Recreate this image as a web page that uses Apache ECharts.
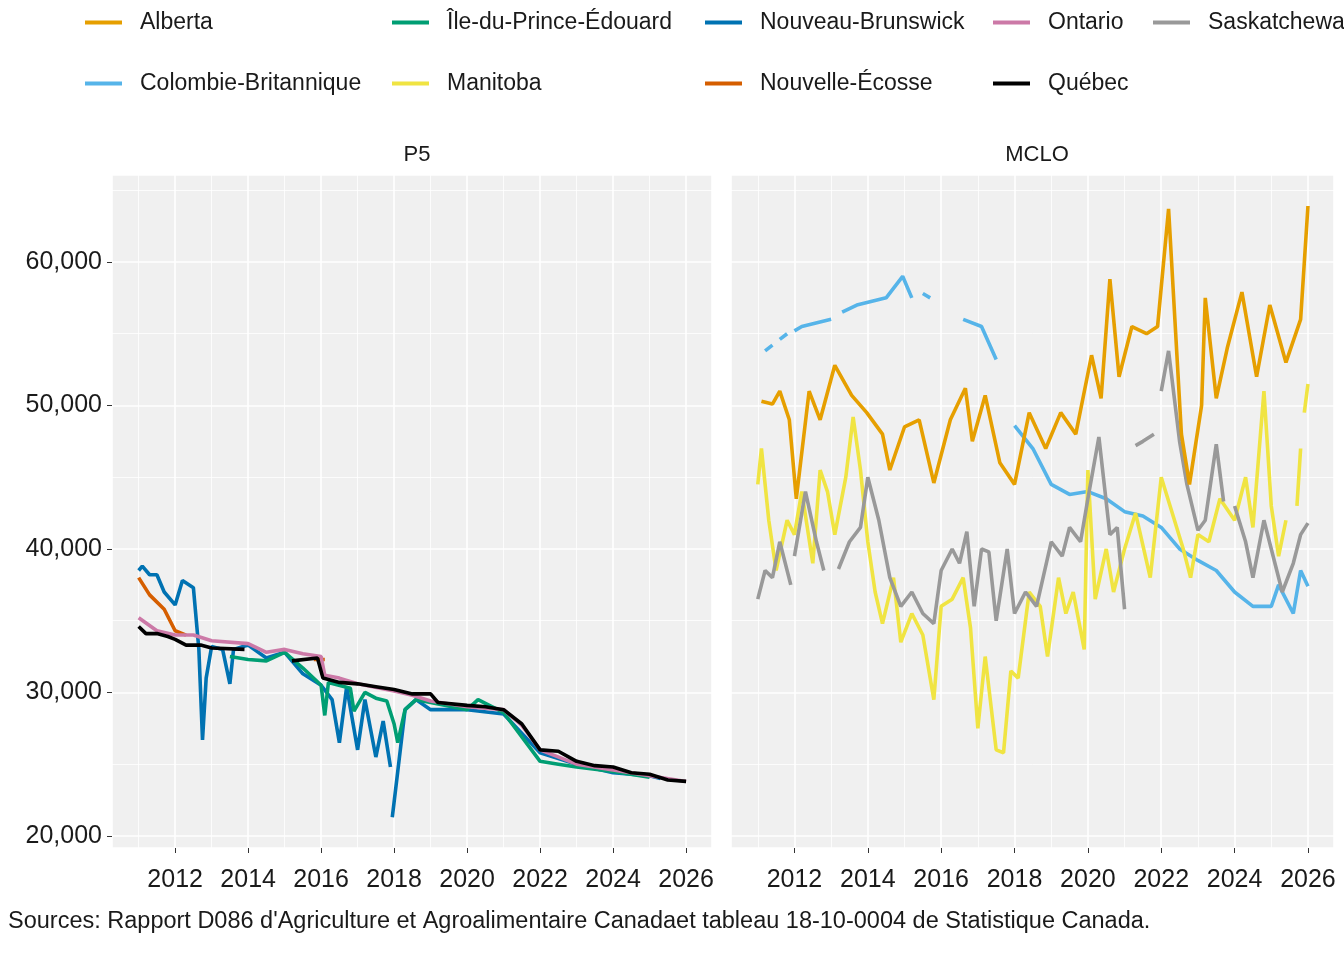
<!DOCTYPE html>
<html>
<head>
<meta charset="utf-8">
<script src="https://cdn.jsdelivr.net/npm/echarts@6/dist/echarts.min.js"></script>
<style>
  html, body { margin: 0; padding: 0; background: #fff; }
  #chart { width: 1344px; height: 960px; }
</style>
</head>
<body>
<div id="chart"></div>
<script>
// provinces and their colours
const provinces = ['Alberta', 'Colombie-Britannique', 'Île-du-Prince-Édouard', 'Manitoba', 'Nouveau-Brunswick',
    'Nouvelle-Écosse', 'Ontario', 'Québec', 'Saskatchewan'];
const colors = ['#E69F00', '#56B4E9', '#009E73', '#F0E442', '#0072B2', '#D55E00', '#CC79A7', '#000000', '#999999'];

// P5 panel: [year, price], null = gap
const p5Quebec = [[2011.0,34600],[2011.2,34100],[2011.5,34100],[2011.8,33900],[2012.0,33700],[2012.3,33300],[2012.7,33300],
    [2013.0,33100],[2013.9,33000],[2014.0,null],[2015.2,32200],[2015.9,32400],[2016.05,31000],[2016.5,30700],[2017.0,30600],
    [2017.5,30400],[2018.0,30200],[2018.5,29900],[2019.0,29900],[2019.2,29300],[2020.0,29100],[2020.5,29000],[2021.0,28800],
    [2021.5,27800],[2022.0,26000],[2022.5,25900],[2023.0,25200],[2023.5,24900],[2024.0,24800],[2024.5,24400],[2025.0,24300],
    [2025.5,23900],[2026.0,23800]];
const p5Ontario = [[2011.0,35200],[2011.5,34300],[2012.0,34000],[2012.5,34000],[2013.0,33600],[2014.0,33400],[2014.5,32800],
    [2015.0,33000],[2015.5,32700],[2016.0,32500],[2016.1,31200],[2016.5,31000],[2017.0,30600],[2018.0,30100],[2018.5,29800],
    [2019.0,29400],[2020.0,29000],[2021.0,28800],[2021.5,27700],[2022.0,26000],[2023.0,25000],[2024.0,24600],[2025.0,24200],
    [2026.0,23800]];
const p5NB = [[2011.0,38500],[2011.1,38800],[2011.3,38200],[2011.5,38200],[2011.7,37000],[2012.0,36100],[2012.2,37800],
    [2012.5,37300],[2012.65,33000],[2012.75,26700],[2012.85,31000],[2013.0,33200],[2013.3,33000],[2013.5,30600],[2013.6,33000],
    [2014.0,33300],[2014.5,32400],[2015.0,32800],[2015.5,31300],[2016.0,30500],[2016.3,29500],[2016.5,26500],[2016.7,30400],
    [2017.0,26000],[2017.2,29500],[2017.5,25500],[2017.7,28000],[2017.9,24800],[2017.93,null],[2017.95,21300],[2018.1,24500],
    [2018.3,28800],[2018.6,29500],[2019.0,28800],[2020.0,28800],[2021.0,28500],[2022.0,25800],[2023.0,25000],[2024.0,24400],
    [2025.0,24200],[2025.3,24000]];
const p5IPE = [[2013.5,32500],[2014.0,32300],[2014.5,32200],[2015.0,32800],[2015.5,31700],[2016.0,30500],[2016.1,28400],
    [2016.2,30700],[2016.8,30300],[2016.9,28700],[2017.2,30000],[2017.5,29600],[2017.8,29400],[2018.0,27800],[2018.1,26500],
    [2018.3,28800],[2018.6,29500],[2019.0,29300],[2020.0,28800],[2020.3,29500],[2021.0,28600],[2022.0,25200],[2022.5,25000],
    [2023.0,24800],[2024.0,24500],[2025.0,24100]];
const p5NE = [[2011.0,38000],[2011.3,36800],[2011.7,35800],[2012.0,34300],[2012.3,34000],[2012.4,null],[2015.8,32300],[2016.1,32300]];

// MCLO panel
const mcloAlberta = [[2011.1,50300],[2011.4,50100],[2011.6,51000],[2011.86,49000],[2012.05,43500],[2012.4,51000],[2012.7,49000],
    [2013.1,52800],[2013.56,50700],[2013.97,49500],[2014.4,48000],[2014.6,45500],[2015.0,48500],[2015.4,49000],[2015.8,44600],
    [2016.25,49000],[2016.66,51200],[2016.85,47500],[2017.2,50700],[2017.6,46000],[2018.0,44500],[2018.4,49500],[2018.85,47000],
    [2019.26,49500],[2019.67,48000],[2020.1,53500],[2020.36,50500],[2020.6,58800],[2020.85,52000],[2021.2,55500],[2021.6,55000],
    [2021.9,55500],[2022.2,63700],[2022.55,48000],[2022.77,44500],[2023.1,50000],[2023.2,57500],[2023.5,50500],[2023.8,54000],
    [2024.2,57900],[2024.6,52000],[2024.96,57000],[2025.4,53000],[2025.8,56000],[2026.0,63900]];
const mcloCB = [[2011.2,53800],[2011.4,54200],[2011.45,null],[2011.6,54600],[2011.8,55000],[2011.85,null],[2012.0,55200],
    [2012.2,55500],[2013.0,56000],[2013.1,null],[2013.3,56500],[2013.7,57000],[2014.5,57500],[2014.95,59000],[2015.2,57500],
    [2015.3,null],[2015.5,57800],[2015.7,57500],[2015.8,null],[2016.6,56000],[2017.1,55500],[2017.5,53200],[2017.7,null],
    [2018.0,48600],[2018.5,47000],[2019.0,44500],[2019.5,43800],[2020.0,44000],[2020.5,43500],[2021.0,42600],[2021.5,42300],
    [2022.0,41500],[2022.5,40000],[2023.0,39200],[2023.5,38500],[2024.0,37000],[2024.5,36000],[2025.0,36000],[2025.2,37500],
    [2025.6,35500],[2025.8,38500],[2026.0,37400]];
const mcloSask = [[2011.0,36500],[2011.2,38500],[2011.4,38000],[2011.6,40500],[2011.9,37500],[2011.95,null],[2012.0,39500],
    [2012.3,44000],[2012.6,40500],[2012.8,38500],[2013.0,null],[2013.2,38600],[2013.5,40500],[2013.8,41500],[2014.0,45000],
    [2014.3,42000],[2014.6,38000],[2014.9,36000],[2015.2,37000],[2015.5,35500],[2015.8,34800],[2016.0,38500],[2016.3,40000],
    [2016.5,39000],[2016.7,41200],[2016.9,36000],[2017.1,40000],[2017.3,39800],[2017.5,35000],[2017.8,40000],[2018.0,35500],
    [2018.3,37000],[2018.6,36000],[2019.0,40500],[2019.3,39500],[2019.5,41500],[2019.8,40500],[2020.0,43500],[2020.3,47800],
    [2020.6,41000],[2020.8,41500],[2021.0,35800],[2021.1,null],[2021.3,47200],[2021.5,47500],[2021.8,48000],[2021.9,null],
    [2022.0,51000],[2022.2,53800],[2022.5,47500],[2022.7,44500],[2023.0,41300],[2023.2,42000],[2023.5,47300],[2023.7,43300],
    [2023.8,null],[2024.0,43000],[2024.3,40500],[2024.5,38000],[2024.8,42000],[2025.0,40000],[2025.3,37000],[2025.6,39000],
    [2025.8,41000],[2026.0,41800]];
const mcloManitoba = [[2011.0,44500],[2011.1,47000],[2011.3,42000],[2011.5,38500],[2011.8,42000],[2012.0,41000],[2012.2,44000],
    [2012.5,39000],[2012.7,45500],[2012.9,44000],[2013.1,41000],[2013.4,45000],[2013.6,49200],[2013.8,45500],[2014.0,40500],
    [2014.2,37000],[2014.4,34800],[2014.7,38000],[2014.9,33500],[2015.2,35500],[2015.5,34000],[2015.8,29500],[2016.0,36000],
    [2016.3,36500],[2016.6,38000],[2016.8,34500],[2017.0,27500],[2017.2,32500],[2017.5,26000],[2017.7,25800],[2017.9,31500],
    [2018.1,31000],[2018.4,37000],[2018.7,36000],[2018.9,32500],[2019.2,38000],[2019.4,35500],[2019.6,37000],[2019.9,33000],
    [2020.0,45500],[2020.2,36500],[2020.5,40000],[2020.7,37000],[2021.0,40000],[2021.3,42500],[2021.7,38000],[2022.0,45000],
    [2022.3,42500],[2022.6,40000],[2022.8,38000],[2023.0,41000],[2023.3,40500],[2023.6,43500],[2024.0,42000],[2024.3,45000],
    [2024.5,41500],[2024.8,51000],[2025.0,43000],[2025.2,39500],[2025.4,42000],[2025.5,null],[2025.7,43000],[2025.8,47000],
    [2025.85,null],[2025.9,49500],[2026.0,51500]];

const yearTicks = [2012, 2014, 2016, 2018, 2020, 2022, 2024, 2026];
const yTicks = [20000, 30000, 40000, 50000, 60000];

const panels = [
    { idx: 0, data: { 'Québec': p5Quebec, 'Ontario': p5Ontario, 'Nouveau-Brunswick': p5NB, 'Île-du-Prince-Édouard': p5IPE, 'Nouvelle-Écosse': p5NE } },
    { idx: 1, data: { 'Alberta': mcloAlberta, 'Colombie-Britannique': mcloCB, 'Saskatchewan': mcloSask, 'Manitoba': mcloManitoba } }
];
const drawOrder = ['Nouvelle-Écosse', 'Nouveau-Brunswick', 'Île-du-Prince-Édouard', 'Ontario', 'Québec',
    'Colombie-Britannique', 'Manitoba', 'Saskatchewan', 'Alberta'];

const series = [];
panels.forEach(p => {
    drawOrder.forEach(name => {
        if (!p.data[name]) return;
        series.push({
            name: name,
            type: 'line',
            xAxisIndex: p.idx,
            yAxisIndex: p.idx,
            data: p.data[name],
            showSymbol: false,
            connectNulls: false,
            color: colors[provinces.indexOf(name)],
            lineStyle: { width: 3.6 },
            emphasis: { disabled: true }
        });
    });
});

// legend: 2 rows x 5 columns
const legendCols = [80, 387, 700, 988, 1148];
const legendRows = [6, 67];
const legends = provinces.map((name, i) => ({
    data: [name],
    left: legendCols[Math.floor(i / 2)],
    top: legendRows[i % 2],
    icon: 'rect',
    itemWidth: 37,
    itemHeight: 4,
    textStyle: { fontSize: 23, color: '#1a1a1a', padding: [0, 0, 0, 13], fontFamily: 'Liberation Sans' },
    selectedMode: false
}));

const font = 'Liberation Sans';
function xAxis(gridIndex) {
    return {
        type: 'value', gridIndex: gridIndex, min: 2010.27, max: 2026.71, splitNumber: 8,
        axisLine: { show: false },
        axisTick: { show: true, length: 5, lineStyle: { color: '#333' } },
        axisLabel: { fontSize: 25, color: '#1a1a1a', fontFamily: font, margin: 20, showMinLabel: false, showMaxLabel: false,
            formatter: v => yearTicks.includes(Math.round(v)) && Math.abs(v - Math.round(v)) < 1e-6 ? String(Math.round(v)) : '' },
        splitLine: { show: true, lineStyle: { color: '#fff', width: 1.6 } },
        minorTick: { show: false, splitNumber: 2 },
        minorSplitLine: { show: true, lineStyle: { color: '#fff', width: 0.8 } }
    };
}
function yAxis(gridIndex, labels) {
    return {
        type: 'value', gridIndex: gridIndex, min: 19160, max: 66060, splitNumber: 5,
        axisLine: { show: false },
        axisTick: { show: labels, length: 5, lineStyle: { color: '#333' } },
        axisLabel: { show: labels, fontSize: 25, color: '#1a1a1a', fontFamily: font, margin: 10, showMinLabel: false, showMaxLabel: false,
            formatter: v => yTicks.includes(v) ? v.toLocaleString('en-US') : '' },
        splitLine: { show: true, lineStyle: { color: '#fff', width: 1.6 } },
        minorTick: { show: false, splitNumber: 2 },
        minorSplitLine: { show: true, lineStyle: { color: '#fff', width: 0.8 } }
    };
}

var chart = echarts.init(document.getElementById('chart'));
chart.setOption({
    animation: false,
    backgroundColor: '#fff',
    textStyle: { fontFamily: font },
    legend: legends,
    grid: [
        { left: 112, top: 175, width: 600, height: 673, show: true, backgroundColor: '#f0f0f0', borderWidth: 0 },
        { left: 731, top: 175, width: 603, height: 673, show: true, backgroundColor: '#f0f0f0', borderWidth: 0 }
    ],
    xAxis: [xAxis(0), xAxis(1)],
    yAxis: [yAxis(0, true), yAxis(1, false)],
    title: [
        { text: 'P5', left: 412, top: 139, textAlign: 'center', textStyle: { fontSize: 22, fontWeight: 'normal', color: '#1a1a1a' } },
        { text: 'MCLO', left: 1032, top: 139, textAlign: 'center', textStyle: { fontSize: 22, fontWeight: 'normal', color: '#1a1a1a' } },
        { text: "Sources: Rapport D086 d'Agriculture et Agroalimentaire Canadaet tableau 18-10-0004 de Statistique Canada.",
          left: 3, top: 905, textStyle: { fontSize: 23.5, fontWeight: 'normal', color: '#1a1a1a' } }
    ],
    series: series
});
</script>
</body>
</html>
